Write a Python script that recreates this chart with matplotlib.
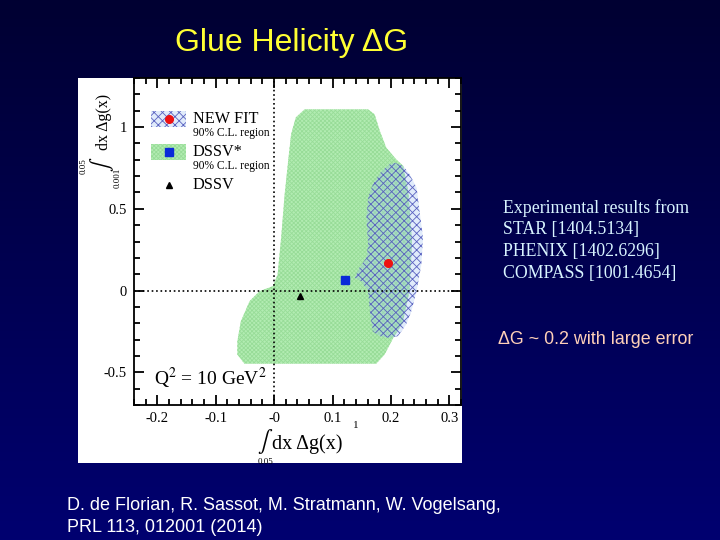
import matplotlib.pyplot as plt
import numpy as np
from matplotlib.patches import Polygon, Rectangle

plt.rcParams['axes.unicode_minus'] = False
plt.rcParams['mathtext.fontset'] = 'stix'
plt.rcParams['hatch.linewidth'] = 0.6

# 90% C.L. region of DSSV* (green)
dssv_star_x = [0.052, 0.161, 0.172, 0.181, 0.192, 0.209, 0.221, 0.230, 0.236, 0.232,
               0.220, 0.204, 0.189, 0.175, -0.051, -0.063, -0.063, -0.057, -0.042,
               -0.025, -0.002, 0.006, 0.012, 0.018, 0.024, 0.029, 0.037]
dssv_star_y = [1.108, 1.108, 1.078, 0.976, 0.874, 0.802, 0.762, 0.600, 0.300, 0.000,
               -0.200, -0.290, -0.392, -0.447, -0.447, -0.392, -0.310, -0.188, -0.065,
               -0.004, 0.027, 0.098, 0.323, 0.588, 0.792, 0.955, 1.058]

# 90% C.L. region of NEW FIT (blue cross-hatch)
newfit_x = [0.206, 0.221, 0.232, 0.244, 0.249, 0.255, 0.252, 0.244, 0.235, 0.226,
            0.212, 0.198, 0.181, 0.169, 0.164, 0.161, 0.149, 0.138, 0.146, 0.158,
            0.161, 0.158, 0.161, 0.169, 0.184, 0.198]
newfit_y = [0.782, 0.762, 0.711, 0.629, 0.486, 0.323, 0.159, -0.004, -0.126, -0.208,
            -0.279, -0.290, -0.279, -0.249, -0.126, -0.004, 0.057, 0.078, 0.139, 0.200,
            0.282, 0.445, 0.568, 0.649, 0.731, 0.772]

# central values
newfit_pt = (0.195, 0.170)
dssv_star_pt = (0.122, 0.066)
dssv_pt = (0.045, -0.034)

xticks = [-0.2, -0.1, 0.0, 0.1, 0.2, 0.3]
xticklabels = ['-0.2', '-0.1', '-0', '0.1', '0.2', '0.3']
yticks = [-0.5, 0.0, 0.5, 1.0]
yticklabels = ['-0.5', '0', '0.5', '1']

serif = ['Liberation Serif', 'DejaVu Serif']
sans = ['Liberation Sans', 'DejaVu Sans']

green_face, green_hatch = '#b2ecb2', '#98dc98'
blue_face, blue_hatch = (0.6, 0.75, 0.95, 0.3), '#5a62c0'

fig = plt.figure(figsize=(7.2, 5.4), dpi=100)

# slide background gradient
bg = fig.add_axes([0, 0, 1, 1], zorder=-10)
grad = np.linspace(0, 1, 256).reshape(-1, 1)
bg.imshow(np.dstack([np.zeros_like(grad), np.zeros_like(grad), (50 + 62 * grad) / 255]),
          aspect='auto', extent=[0, 1, 0, 1], origin='upper')
bg.set_axis_off()
# white picture area
bg.add_patch(Rectangle((78 / 720, 1 - 463 / 540), 384 / 720, 385 / 540,
                       facecolor='white', edgecolor='none', transform=bg.transAxes))

ax = fig.add_axes([134 / 720, 1 - 405 / 540, 327 / 720, 327 / 540])
ax.set_facecolor('white')

ax.add_patch(Polygon(np.column_stack([dssv_star_x, dssv_star_y]), closed=True,
                     facecolor=green_face, edgecolor=green_hatch, linewidth=0,
                     hatch='x' * 8, zorder=1))
ax.add_patch(Polygon(np.column_stack([newfit_x, newfit_y]), closed=True,
                     facecolor=blue_face, edgecolor=blue_hatch, linewidth=0,
                     hatch='xxxx', zorder=2))

ax.axhline(0, color='black', linestyle=':', linewidth=1.2, zorder=3)
ax.axvline(0, color='black', linestyle=':', linewidth=1.2, zorder=3)

ax.plot(*newfit_pt, 'o', color='#ee1111', markersize=5.5, zorder=5)
ax.plot(*dssv_star_pt, 's', color='#0a2ad8', markersize=5.5, zorder=5)
ax.plot(*dssv_pt, '^', color='black', markersize=4.5, zorder=5)

ax.set_xlim(-0.24, 0.32)
ax.set_ylim(-0.70, 1.30)
ax.set_xticks(xticks)
ax.set_xticklabels(xticklabels, family=serif, fontsize=10.5)
ax.set_yticks(yticks)
ax.set_yticklabels(yticklabels, family=serif, fontsize=10.5)
ax.set_xticks(np.arange(-0.24, 0.321, 0.02), minor=True)
ax.set_yticks(np.arange(-0.7, 1.31, 0.1), minor=True)
ax.tick_params(which='both', direction='in', top=True, right=True, width=1.3, pad=5)
ax.tick_params(which='major', length=7)
ax.tick_params(which='minor', length=4)
for s in ax.spines.values():
    s.set_linewidth(1.3)

ax.text(-0.205, -0.535, r'Q$^2$ = 10 GeV$^2$', family=serif, fontsize=14,
        va='center', ha='left', zorder=6)

# legend drawn by hand
ax.add_patch(Rectangle((0.052, 0.850), 0.107, 0.049, transform=ax.transAxes,
                       facecolor=blue_face, edgecolor=blue_hatch,
                       linewidth=0, hatch='xxxx', zorder=4))
ax.add_patch(Rectangle((0.052, 0.749), 0.107, 0.049, transform=ax.transAxes,
                       facecolor=green_face, edgecolor=green_hatch, linewidth=0,
                       hatch='x' * 8, zorder=4))
ax.plot(0.106, 0.875, 'o', color='#ee1111', markersize=5.5, transform=ax.transAxes, zorder=5)
ax.plot(0.106, 0.774, 's', color='#0a2ad8', markersize=5.5, transform=ax.transAxes, zorder=5)
ax.plot(0.106, 0.673, '^', color='black', markersize=4.5, transform=ax.transAxes, zorder=5)
for yy, lab, ysub in [(0.875, 'NEW FIT', 0.832), (0.774, 'DSSV*', 0.731)]:
    ax.text(0.180, yy, lab, transform=ax.transAxes, family=serif, fontsize=11.7,
            va='center', zorder=6)
    ax.text(0.180, ysub, '90% C.L. region', transform=ax.transAxes, family=serif,
            fontsize=8.3, va='center', zorder=6)
ax.text(0.180, 0.673, 'DSSV', transform=ax.transAxes, family=serif, fontsize=11.7,
        va='center', zorder=6)

# axis labels (integral with limits)
fig.text(102 / 720, 1 - 164 / 540, r'$\int$', fontsize=15, rotation=90,
         ha='center', va='center')
fig.text(104 / 720, 1 - 122 / 540, 'dx Δg(x)', family=serif, fontsize=11.5,
         rotation=90, ha='center', va='center')
fig.text(84 / 720, 1 - 166 / 540, '0.05', family=serif, fontsize=6.5, rotation=90,
         ha='center', va='center')
fig.text(118 / 720, 1 - 178 / 540, '0.001', family=serif, fontsize=6.5, rotation=90,
         ha='center', va='center')

fig.text(265 / 720, 1 - 442 / 540, r'$\int$', fontsize=16, ha='center', va='center')
fig.text(272 / 720, 1 - 444 / 540, 'dx Δg(x)', family=serif, fontsize=14.5,
         ha='left', va='center')
fig.text(356 / 720, 1 - 425 / 540, '1', family=serif, fontsize=8, ha='center', va='center')
fig.text(265 / 720, 1 - 462 / 540, '0.05', family=serif, fontsize=6.5, ha='center',
         va='center')

# slide texts
fig.text(292 / 720, 1 - 43 / 540, 'Glue Helicity ΔG', family=sans, fontsize=23,
         color='#ffff33', ha='center', va='center')
for i, line in enumerate(['Experimental results from', 'STAR [1404.5134]',
                          'PHENIX [1402.6296]', 'COMPASS [1001.4654]']):
    fig.text(503 / 720, 1 - (208 + 21.9 * i) / 540, line, family=serif, fontsize=12.8,
             color='#d8f4ff', ha='left', va='center')
fig.text(498 / 720, 1 - 339 / 540, 'ΔG ~ 0.2 with large error', family=sans,
         fontsize=12.9, color='#ffd0b8', ha='left', va='center')
fig.text(67 / 720, 1 - 506 / 540, 'D. de Florian, R. Sassot, M. Stratmann, W. Vogelsang,',
         family=sans, fontsize=13, color='white', ha='left', va='center')
fig.text(67 / 720, 1 - 527 / 540, 'PRL 113, 012001 (2014)', family=sans, fontsize=13,
         color='white', ha='left', va='center')

fig.savefig('out.png', dpi=100)
